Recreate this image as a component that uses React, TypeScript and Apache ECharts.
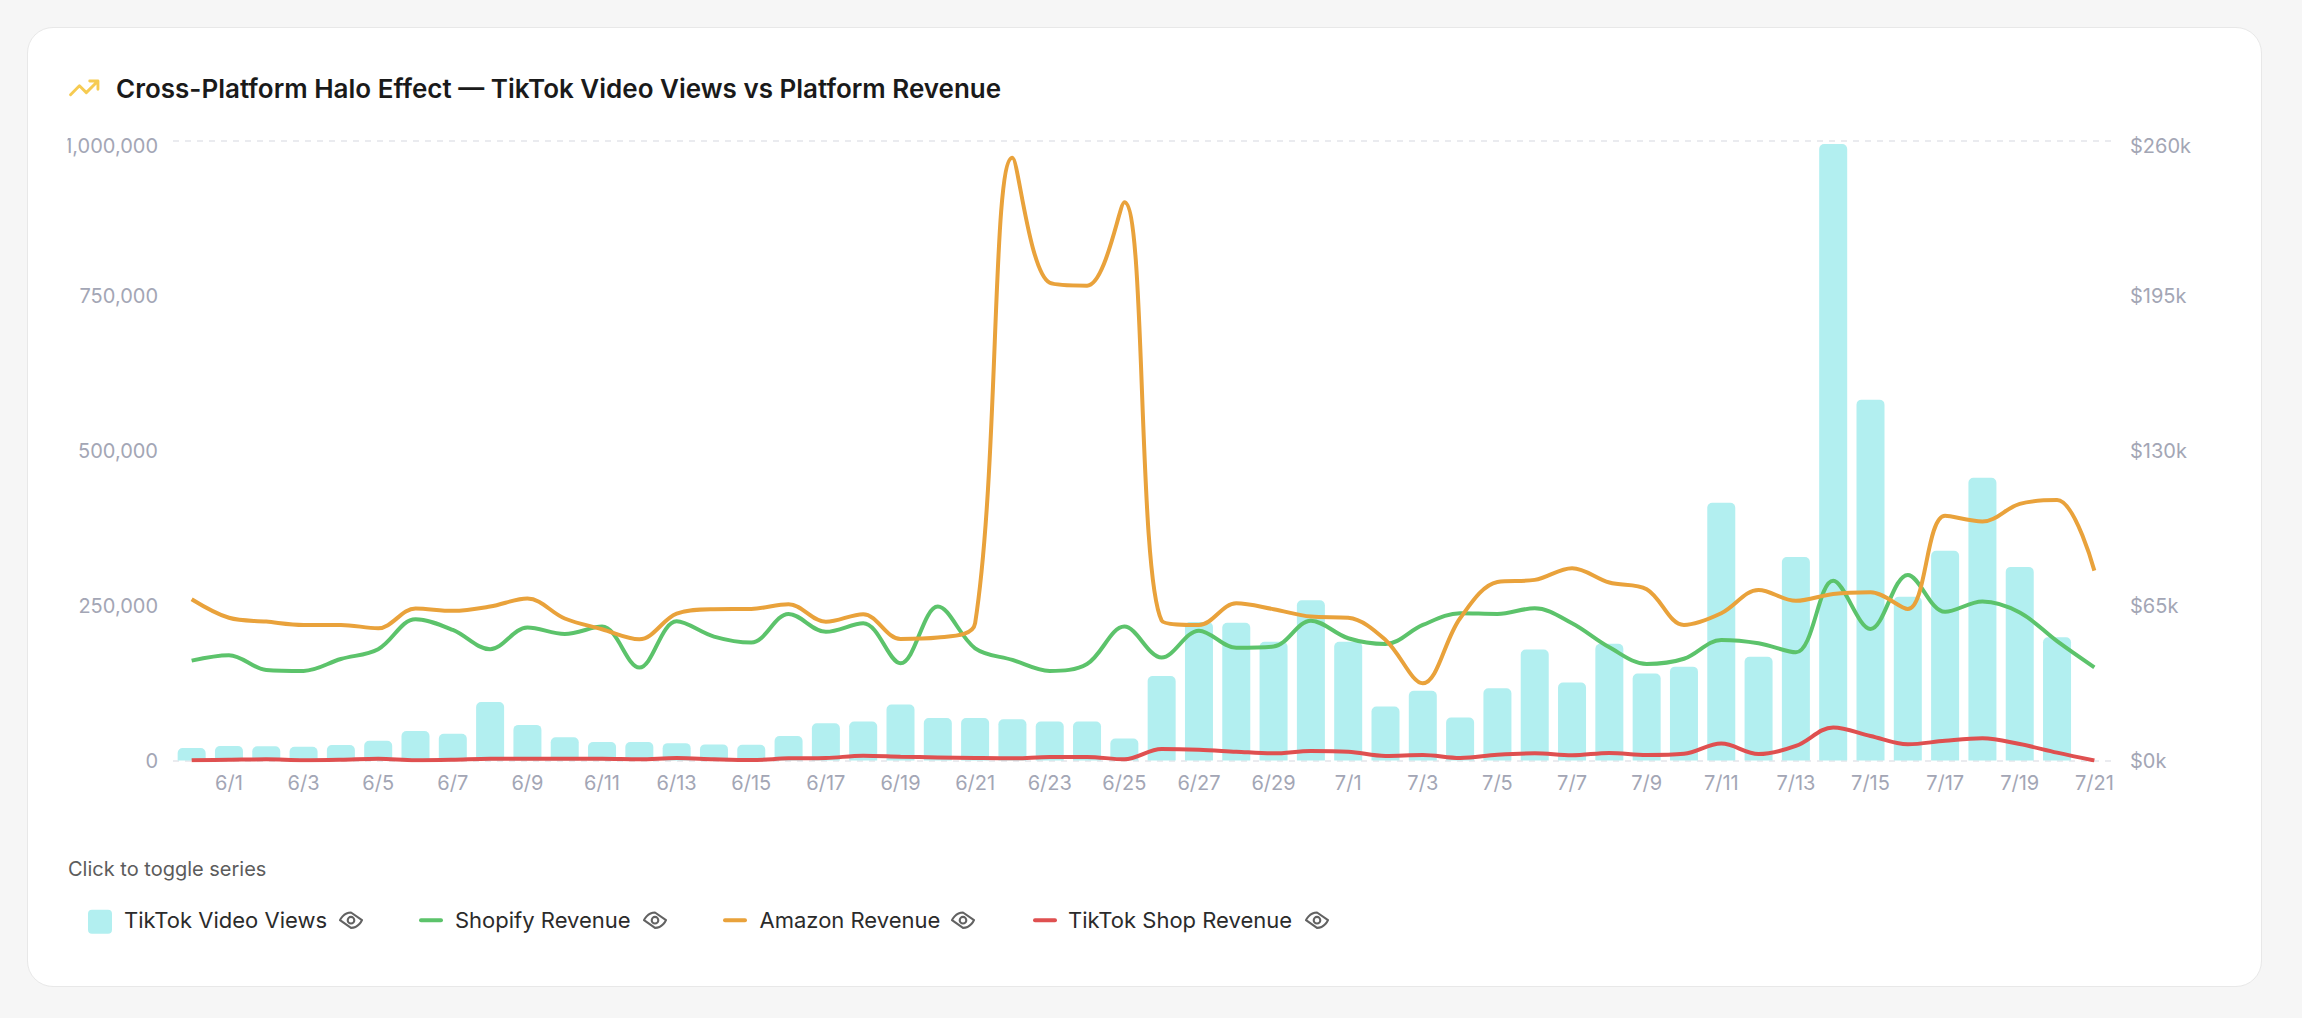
import React, { useEffect, useRef } from "react";
import * as echarts from "echarts";

const dates = [
  "5/31",
  "6/1","6/2","6/3","6/4","6/5","6/6","6/7","6/8","6/9","6/10",
  "6/11","6/12","6/13","6/14","6/15","6/16","6/17","6/18","6/19","6/20",
  "6/21","6/22","6/23","6/24","6/25","6/26","6/27","6/28","6/29","6/30",
  "7/1","7/2","7/3","7/4","7/5","7/6","7/7","7/8","7/9","7/10",
  "7/11","7/12","7/13","7/14","7/15","7/16","7/17","7/18","7/19","7/20","7/21",
];

const tiktokViews = [
  20000, 23500, 23000, 22000, 25000, 32000, 47500, 43000, 94500, 57500,
  37500, 30000, 30000, 28000, 26000, 25500, 39500, 60000, 63000, 90500,
  68500, 68500, 66500, 63000, 63000, 35500, 136500, 223500, 222500, 191500,
  258500, 191500, 87000, 112500, 69500, 116500, 179000, 126000, 188500, 140500,
  151500, 416000, 167500, 328500, 995000, 582500, 264500, 338500, 456500, 312500,
  199000, 0,
];

const shopifyRevenue = [
  41.9, 44.2, 38.0, 37.6, 42.6, 46.7, 59.3, 54.8, 46.7, 55.8,
  53.1, 56.2, 39.0, 58.4, 52.0, 49.5, 61.5, 54.0, 57.6, 40.8,
  64.6, 47.1, 42.2, 37.6, 40.5, 56.2, 43.2, 54.5, 47.3, 47.8,
  58.7, 51.3, 48.9, 56.9, 61.8, 61.5, 63.9, 57.6, 47.5, 40.5,
  42.7, 50.6, 49.2, 45.4, 75.4, 55.2, 77.9, 62.4, 66.7, 62.1,
  50.1, 39.1,
];

const amazonRevenue = [
  67.7, 59.9, 58.3, 56.9, 56.9, 55.5, 63.8, 62.8, 64.6, 68.0,
  59.6, 55.1, 50.9, 61.6, 63.5, 63.6, 65.6, 58.2, 61.4, 51.0,
  51.6, 57.6, 253.0, 200.5, 199.3, 234.3, 58.7, 56.9, 66.0, 63.5,
  60.4, 59.9, 50.6, 32.4, 59.7, 74.9, 75.8, 80.7, 74.7, 71.9,
  56.9, 61.8, 71.6, 67.0, 69.9, 70.6, 63.6, 102.7, 100.3, 107.7,
  109.3, 79.7,
];

const tiktokShopRevenue = [
  0.1, 0.3, 0.5, 0.1, 0.3, 0.7, 0.1, 0.3, 0.7, 0.7,
  0.7, 0.7, 0.5, 1.0, 0.5, 0.2, 0.9, 1.05, 2.0, 1.6,
  1.3, 1.05, 0.9, 1.5, 1.5, 0.5, 4.8, 4.5, 3.7, 3.0,
  4.0, 3.7, 1.9, 2.3, 1.05, 2.4, 3.0, 2.2, 3.2, 2.3,
  2.8, 7.1, 2.7, 6.1, 13.9, 10.3, 6.8, 8.3, 9.3, 6.9,
  3.3, 0,
];

const titleText = "Cross-Platform Halo Effect \u2014 TikTok Video Views vs Platform Revenue";
const hintText = "Click to toggle series";
const seriesNames = ["TikTok Video Views", "Shopify Revenue", "Amazon Revenue", "TikTok Shop Revenue"];
const seriesColors = ["#b2eff0", "#5cc36b", "#e9a23b", "#df5050"];

const FONT = "Inter, 'Noto Sans', sans-serif";
const TICK = "#a3a6b5";
const TICK_SIZE = 20;

echarts.graphic.registerShape(
  "lucideEye",
  echarts.graphic.extendPath("M2 12s3-7 10-7 10 7 10 7-3 7-10 7-10-7-10-7ZM15 12a3 3 0 1 1-6 0a3 3 0 1 1 6 0Z", {})
);
echarts.graphic.registerShape(
  "lucideTrend",
  echarts.graphic.extendPath("M22 7 13.5 15.5 8.5 10.5 2 17M16 7h6v6", {})
);

export default function App() {
  const ref = useRef<HTMLDivElement>(null);

  useEffect(() => {
    document.body.style.margin = "0";
    const chart = echarts.init(ref.current!, null, { renderer: "svg" });

    const legendY = 920.2;
    const eye = (x: number) => ({
      type: "lucideEye",
      x,
      y: legendY - 13.2,
      scaleX: 1.1,
      scaleY: 1.1,
      silent: true,
      style: { fill: "none", stroke: "#626262", lineWidth: 1.9, lineCap: "round", lineJoin: "round" },
    });
    const label = (text: string, x: number) => ({
      type: "text",
      x,
      y: legendY,
      silent: true,
      style: { text, fontFamily: FONT, fontSize: 22, fill: "#2b2b2b", textVerticalAlign: "middle" },
    });
    const dash = (x: number, fill: string) => ({
      type: "rect",
      x,
      y: legendY - 2,
      silent: true,
      shape: { width: 24, height: 4, r: 2 },
      style: { fill },
    });

    chart.setOption({
      animation: false,
      backgroundColor: "transparent",
      title: {
        text: titleText,
        left: 116,
        top: 73,
        padding: 0,
        textStyle: { fontFamily: FONT, fontSize: 26, fontWeight: 600, color: "#1a1a1a", lineHeight: 30 },
      },
      grid: { left: 173, right: 189, top: 141, bottom: 257.5, containLabel: false },
      xAxis: {
        type: "category",
        data: dates,
        boundaryGap: true,
        axisLine: { show: false },
        axisTick: { show: false },
        axisLabel: {
          color: TICK,
          fontFamily: FONT,
          fontSize: TICK_SIZE,
          margin: 12.5,
          interval: (i: number) => i % 2 === 1,
        },
      },
      yAxis: [
        {
          type: "value",
          min: 0,
          max: 1000000,
          interval: 250000,
          axisLine: { show: false },
          axisTick: { show: false },
          splitLine: {
            show: true,
            lineStyle: {
              color: ["#e4e5ea", "transparent", "transparent", "transparent"],
              type: [6, 6],
              width: 1.5,
            },
          },
          axisLabel: {
            color: TICK,
            fontFamily: FONT,
            fontSize: TICK_SIZE,
            margin: 15,
            formatter: (v: number) => {
              const s = v.toLocaleString("en-US");
              return v === 1000000 ? `{top|${s}}` : s;
            },
            rich: {
              top: { color: TICK, fontFamily: FONT, fontSize: TICK_SIZE, padding: [10, 0, 0, 0] },
            },
          },
        },
        {
          type: "value",
          min: 0,
          max: 260,
          interval: 65,
          axisLine: { show: false },
          axisTick: { show: false },
          splitLine: { show: false },
          axisLabel: {
            color: TICK,
            fontFamily: FONT,
            fontSize: TICK_SIZE,
            margin: 17,
            formatter: (v: number) => (v === 260 ? `{top|$${v}k}` : `$${v}k`),
            rich: {
              top: { color: TICK, fontFamily: FONT, fontSize: TICK_SIZE, padding: [10, 0, 0, 0] },
            },
          },
        },
      ],
      series: [
        {
          name: seriesNames[0],
          type: "bar",
          yAxisIndex: 0,
          data: tiktokViews,
          barWidth: 28,
          silent: true,
          z: 2,
          itemStyle: { color: seriesColors[0], borderRadius: [5, 5, 0, 0] },
        },
        ...[shopifyRevenue, amazonRevenue, tiktokShopRevenue].map((data, i) => ({
          name: seriesNames[i + 1],
          type: "line",
          yAxisIndex: 1,
          data,
          showSymbol: false,
          smooth: 0.35,
          silent: true,
          z: 3 + i,
          lineStyle: { color: seriesColors[i + 1], width: 4, cap: "butt" },
        })),
      ],
      graphic: [
        {
          type: "lucideTrend",
          x: 67.8,
          y: 71.4,
          scaleX: 1.37,
          scaleY: 1.37,
          silent: true,
          style: { fill: "none", stroke: "#f6cb52", lineWidth: 2.1, lineCap: "round", lineJoin: "round" },
        },
        {
          type: "text",
          x: 68,
          y: 869,
          silent: true,
          style: { text: hintText, fontFamily: FONT, fontSize: 20, fill: "#5c5c5c", textVerticalAlign: "middle" },
        },
        {
          type: "rect",
          x: 88,
          y: 909.7,
          silent: true,
          shape: { width: 24, height: 24, r: 4 },
          style: { fill: seriesColors[0] },
        },
        label(seriesNames[0], 124),
        eye(337.8),
        dash(419, seriesColors[1]),
        label(seriesNames[1], 455),
        eye(641.8),
        dash(723, seriesColors[2]),
        label(seriesNames[2], 759.5),
        eye(949.8),
        dash(1033, seriesColors[3]),
        label(seriesNames[3], 1068),
        eye(1303.8),
      ],
    });

    return () => chart.dispose();
  }, []);

  return (
    <div style={{ position: "absolute", left: 0, top: 0, width: 2302, height: 1018, background: "#f6f6f6", overflow: "hidden" }}>
      <div
        style={{
          position: "absolute",
          left: 26.5,
          top: 26.5,
          width: 2235,
          height: 960,
          boxSizing: "border-box",
          background: "#ffffff",
          border: "1.5px solid #e8e8e8",
          borderRadius: 26,
        }}
      />
      <div
        ref={ref}
        style={{ position: "absolute", left: 0, top: 0, width: 2302, height: 1018, clipPath: "inset(0 0 0 67.5px)" }}
      />
    </div>
  );
}
